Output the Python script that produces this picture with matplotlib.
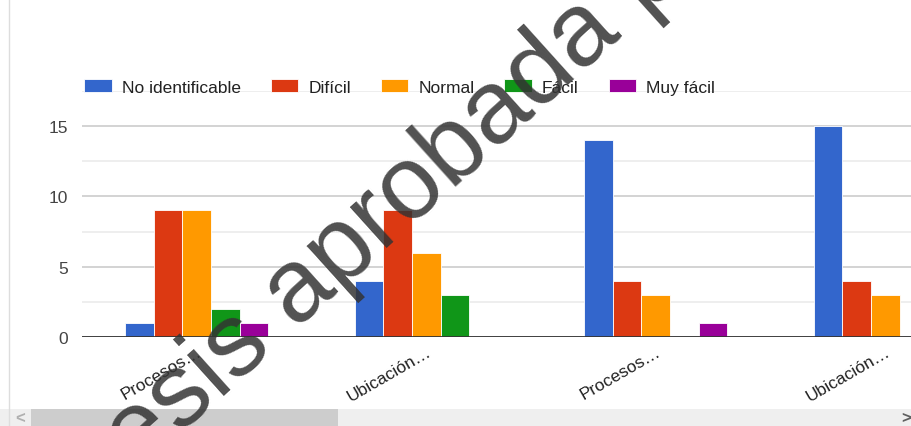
import matplotlib.pyplot as plt
import numpy as np
from matplotlib.patches import Rectangle

plt.rcParams['font.family'] = ['Liberation Sans', 'DejaVu Sans']

# data
categorias = ['Procesos…', 'Ubicación…', 'Procesos…', 'Ubicación…']
series = ['No identificable', 'Difícil', 'Normal', 'Fácil', 'Muy fácil']
no_identificable = [1, 4, 14, 15]
dificil = [9, 9, 4, 4]
normal = [9, 6, 3, 3]
facil = [2, 3, 0, 0]
muy_facil = [1, 0, 1, 0]
valores = [no_identificable, dificil, normal, facil, muy_facil]
colores = ['#3366cc', '#dc3912', '#ff9900', '#109618', '#990099']

W, H = 912, 427
fig = plt.figure(figsize=(W / 100, H / 100), dpi=100)

# plot area runs off the right edge like in the screenshot
ax = fig.add_axes([82 / W, (H - 338) / H, (1000 - 82) / W, 246 / H])

x = np.arange(len(categorias))
ancho = 0.125
for i, (nombre, vals, c) in enumerate(zip(series, valores, colores)):
    ax.bar(x + (i - 2) * ancho, vals, ancho, color=c, label=nombre,
           edgecolor='white', linewidth=0.6, zorder=3)

ax.set_xlim(-0.5, len(categorias) - 0.5)
ax.set_ylim(0, 17.5)
ax.set_yticks([0, 5, 10, 15])
ax.set_yticks([2.5, 7.5, 12.5, 17.5], minor=True)
ax.grid(axis='y', which='major', color='#cccccc', linewidth=1.2, zorder=0)
ax.grid(axis='y', which='minor', color='#ebebeb', linewidth=1.2, zorder=0)
ax.axhline(0, color='#333333', linewidth=2, zorder=4)
for s in ax.spines.values():
    s.set_visible(False)
ax.tick_params(axis='both', which='both', length=0)
ax.tick_params(axis='y', labelsize=12.5, labelcolor='#444444', pad=10)
ax.set_xticks(x)
ax.set_xticklabels(categorias, rotation=30, ha='right', va='top',
                   rotation_mode='anchor', fontsize=12.5, color='#222222')
ax.tick_params(axis='x', pad=5)

leg = fig.legend(loc='center left', bbox_to_anchor=(84 / W, 1 - 88 / H), ncol=5,
                 frameon=False, fontsize=12.5, handlelength=1.6, handleheight=0.8,
                 handletextpad=0.57, columnspacing=1.72, borderaxespad=0, borderpad=0)
for t in leg.get_texts():
    t.set_color('#222222')

# left border of the frame
fig.add_artist(plt.Line2D([9.5 / W, 9.5 / W], [0, 1], color='#dddddd', linewidth=1))

# horizontal scrollbar
fig.add_artist(Rectangle((0, 0), 1, 17 / H, facecolor='#efefef', edgecolor='none'))
fig.add_artist(Rectangle((31 / W, 0), (338 - 31) / W, 17 / H, facecolor='#cdcdcd', edgecolor='none'))
fig.text(20 / W, 8 / H, '<', fontsize=12, color='#b0b0b0', ha='center', va='center', weight='bold')
fig.text(906 / W, 8 / H, '>', fontsize=12, color='#606060', ha='center', va='center', weight='bold')

# watermark
fig.text(384 / W, 1 - 215 / H, 'tesis aprobada p', fontsize=75, rotation=42,
         color='#333333', alpha=0.85, ha='center', va='center', zorder=10)

fig.savefig('out.png', dpi=100)
